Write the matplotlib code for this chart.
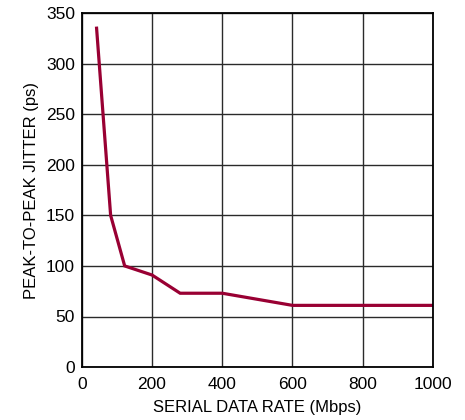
import matplotlib.pyplot as plt

plt.rcParams['font.family'] = ['Liberation Sans Narrow', 'Liberation Sans', 'DejaVu Sans']

data_rate = [42, 82, 122, 200, 280, 400, 600, 1000]
jitter = [335, 150, 100, 91, 73, 73, 61, 61]

fig = plt.figure(figsize=(4.65, 4.2), dpi=100)
ax = fig.add_axes([0.176, 0.126, 0.755, 0.843])

ax.plot(data_rate, jitter, color='#990033', linewidth=2.3, solid_joinstyle='miter')

ax.set_xlim(0, 1000)
ax.set_ylim(0, 350)
ax.set_xticks(range(0, 1001, 200))
ax.set_yticks(range(0, 351, 50))
ax.grid(True, color='#2a2a2a', linewidth=1.0)
ax.tick_params(length=0, labelsize=12.5, pad=5)
ax.tick_params(axis='x', pad=7)
for s in ax.spines.values():
    s.set_linewidth(1.3)
    s.set_color('black')

ax.set_xlabel('SERIAL DATA RATE (Mbps)', fontsize=12, labelpad=6)
ax.set_ylabel('PEAK-TO-PEAK JITTER (ps)', fontsize=12, labelpad=5)

plt.savefig('out.png', dpi=100)
